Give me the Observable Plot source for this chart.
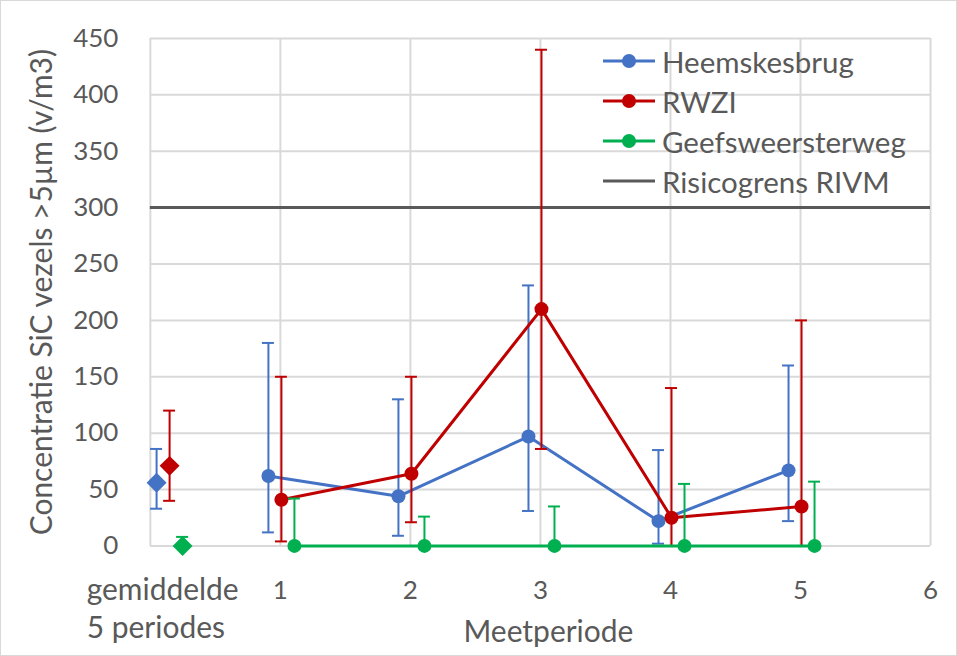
<!DOCTYPE html>
<html>
<head>
<meta charset="utf-8">
<script src="https://cdn.jsdelivr.net/npm/d3@7"></script>
<script src="https://cdn.jsdelivr.net/npm/@observablehq/plot@0.6"></script>
<style>
  html, body { margin: 0; padding: 0; background: #fff; }
  #wrap { position: relative; width: 957px; height: 656px; box-sizing: border-box; border: 1px solid #d9d9d9; overflow: hidden; font-family: Lato, sans-serif; color: #595959; }
  #chart { position: absolute; left: -1px; top: -1px; }
  #legend { position: absolute; left: 601px; top: 40px; font-size: 29.5px; }
  .row { display: flex; align-items: center; height: 40px; }
  .row svg { margin-right: 6px; flex: none; }
</style>
</head>
<body>
<div id="wrap"><div id="chart"></div><div id="legend"></div></div>
<script>
// ---- data ----
const seriesNames = ["Heemskesbrug", "RWZI", "Geefsweersterweg"];
const seriesColors = ["#4472C4", "#C00000", "#00B050"];
const seriesOffsets = [-0.1, 0, 0.1];
const categories = ["gemiddelde", "1", "2", "3", "4", "5"];
const categoryPos = [0.148, 1.008, 2.008, 3.008, 4.008, 5.008];

const heemValue = [56, 62, 44, 97, 22, 67];
const heemLow   = [33, 12, 9, 31, 2, 22];
const heemHigh  = [86, 180, 130, 231, 85, 160];

const rwziValue = [71, 41, 64, 210, 25, 35];
const rwziLow   = [40, 4, 21, 86, 0, 0];
const rwziHigh  = [120, 150, 150, 440, 140, 200];

const geefValue = [0, 0, 0, 0, 0, 0];
const geefLow   = [0, 0, 0, 0, 0, 0];
const geefHigh  = [8, 42, 26, 35, 55, 57];

const riskLimit = 300;
const riskName = "Risicogrens RIVM";
const riskColor = "#595959";

const yTicks = [0, 50, 100, 150, 200, 250, 300, 350, 400, 450];
const xTicks = [1, 2, 3, 4, 5, 6];
const xGrid = [0, 1, 2, 3, 4, 5, 6];
const gemTickLabel = "gemiddelde\n5 periodes";
const xLabel = "Meetperiode";
const yLabel = "Concentratie SiC vezels >5µm (v/m3)";

// ---- build table ----
const valueSets = [
  [heemValue, heemLow, heemHigh],
  [rwziValue, rwziLow, rwziHigh],
  [geefValue, geefLow, geefHigh]
];
const rowsBySeries = valueSets.map(([v, lo, hi], s) =>
  categories.map((c, i) => ({
    series: seriesNames[s],
    cat: c,
    gem: i === 0,
    x: categoryPos[i] + seriesOffsets[s],
    v: v[i], lo: lo[i], hi: hi[i]
  }))
);

const capHalf = 0.046;
const marks = [
  Plot.ruleX(xGrid, {x: d => d, stroke: "#d9d9d9", strokeWidth: 2}),
  Plot.ruleY(yTicks, {y: d => d, stroke: "#d9d9d9", strokeWidth: 2}),
  Plot.ruleY([riskLimit], {y: d => d, stroke: riskColor, strokeWidth: 3}),
  Plot.axisY({ticks: yTicks, tickSize: 0, tickPadding: 32, fontSize: 26}),
  Plot.axisX({ticks: xTicks, tickSize: 0, tickPadding: 35, fontSize: 26, tickFormat: d3.format("d"), label: null}),
  Plot.text([gemTickLabel], {x: categoryPos[0], frameAnchor: "bottom", textAnchor: "start", lineAnchor: "middle", dx: -83, dy: 61, fontSize: 30, lineHeight: 1.27, fill: "#595959"}),
  Plot.text([xLabel], {frameAnchor: "bottom", textAnchor: "middle", lineAnchor: "middle", dx: 8, dy: 87, fontSize: 30, fill: "#595959"}),
  Plot.text([yLabel], {frameAnchor: "left", textAnchor: "middle", lineAnchor: "middle", rotate: -90, dx: -108, fontSize: 30, fill: "#595959"})
];

rowsBySeries.forEach((rows, s) => {
  const color = seriesColors[s];
  marks.push(
    Plot.ruleX(rows, {x: "x", y1: "lo", y2: "hi", stroke: color, strokeWidth: 2}),
    Plot.ruleY(rows, {y: "hi", x1: d => d.x - capHalf, x2: d => d.x + capHalf, stroke: color, strokeWidth: 2}),
    Plot.ruleY(rows.filter(d => d.lo > 0), {y: "lo", x1: d => d.x - capHalf, x2: d => d.x + capHalf, stroke: color, strokeWidth: 2}),
    Plot.line(rows.filter(d => !d.gem), {x: "x", y: "v", stroke: color, strokeWidth: 3}),
    Plot.dot(rows.filter(d => !d.gem), {x: "x", y: "v", r: 7, fill: color, stroke: "none"}),
    Plot.dot(rows.filter(d => d.gem), {x: "x", y: "v", r: 9, symbol: "diamond2", fill: color, stroke: "none"})
  );
});

const chart = Plot.plot({
  width: 957,
  height: 656,
  marginLeft: 150,
  marginRight: 26,
  marginTop: 38,
  marginBottom: 110,
  style: {fontFamily: "Lato, sans-serif", fontSize: "26px", color: "#595959", background: "transparent"},
  x: {domain: [0, 6]},
  y: {domain: [0, 450]},
  marks
});
document.getElementById("chart").appendChild(chart);

// ---- legend ----
const legend = document.getElementById("legend");
const items = seriesNames.map((n, i) => ({name: n, color: seriesColors[i], dot: true}))
  .concat([{name: riskName, color: riskColor, dot: false}]);
items.forEach(it => {
  const row = document.createElement("div");
  row.className = "row";
  row.innerHTML = `<svg width="54" height="20"><line x1="1" x2="53" y1="10" y2="10" stroke="${it.color}" stroke-width="3"/>${it.dot ? `<circle cx="27" cy="10" r="7" fill="${it.color}"/>` : ""}</svg><span>${it.name}</span>`;
  legend.appendChild(row);
});
</script>
</body>
</html>
